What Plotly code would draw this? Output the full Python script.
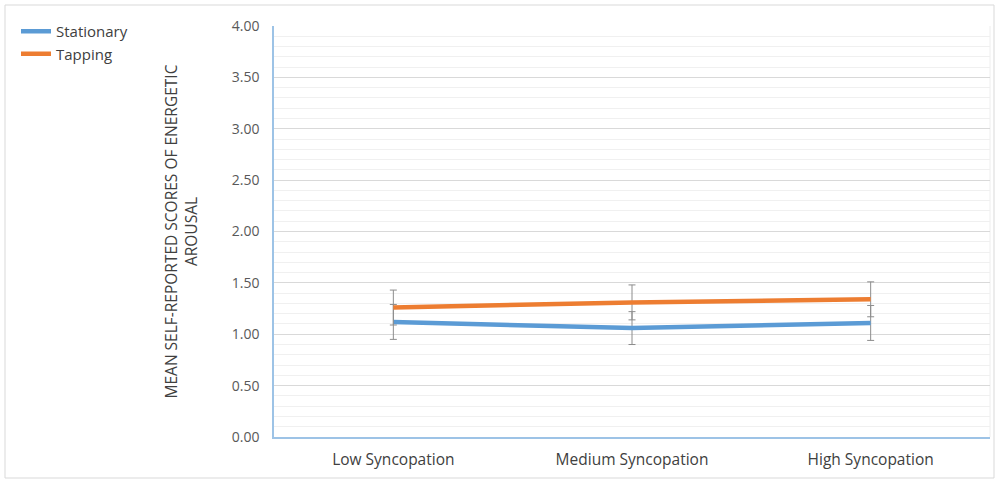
import plotly.graph_objects as go

categories = ["Low Syncopation", "Medium Syncopation", "High Syncopation"]
stationary = [1.12, 1.06, 1.11]
stationary_err = [0.17, 0.16, 0.17]
tapping = [1.26, 1.31, 1.34]
tapping_err = [0.17, 0.17, 0.17]
y_ticks = [0, 0.5, 1, 1.5, 2, 2.5, 3, 3.5, 4]

FONT = "Open Sans"
fig = go.Figure()
fig.add_trace(go.Scatter(
    x=categories, y=stationary, name="Stationary", mode="lines",
    line=dict(color="#5B9BD5", width=4.5),
    error_y=dict(type="data", array=stationary_err, color="#8c8c8c", thickness=1, width=3.5),
))
fig.add_trace(go.Scatter(
    x=categories, y=tapping, name="Tapping", mode="lines",
    line=dict(color="#ED7D31", width=4.5),
    error_y=dict(type="data", array=tapping_err, color="#8c8c8c", thickness=1, width=3.5),
))

L, R, T, B = 274, 5, 26, 45
W, H = 995, 482
pw, ph = W - L - R, H - T - B

fig.update_layout(
    width=W, height=H,
    margin=dict(l=L, r=R, t=T, b=B),
    paper_bgcolor="white", plot_bgcolor="white",
    font=dict(family=FONT, size=13, color="#404040"),
    showlegend=True,
    legend=dict(x=(16 - L) / pw, y=1 + (T - 15) / ph, xanchor="left", yanchor="top",
                font=dict(size=15, color="#404040"), bgcolor="rgba(0,0,0,0)",
                tracegroupgap=5, itemwidth=30),
    xaxis=dict(type="category", range=[-0.5, 2.5], showgrid=False,
               showline=True, linecolor="#9DC3E6", linewidth=1.5,
               ticks="", tickfont=dict(size=15.5, color="#404040"), ticklabelstandoff=8),
    yaxis=dict(range=[0, 4], tickvals=y_ticks, tickformat=".2f",
               showgrid=True, gridcolor="#d9d9d9", gridwidth=1,
               minor=dict(dtick=0.1, showgrid=True, gridcolor="#f0f0f0", gridwidth=1),
               showline=True, linecolor="#9DC3E6", linewidth=1.5, zeroline=False,
               ticks="", tickfont=dict(size=14, color="#595959"), ticklabelstandoff=10,
               title=dict(text="MEAN SELF-REPORTED SCORES OF ENERGETIC<br>AROUSAL",
                          font=dict(size=15.5, color="#404040"), standoff=30)),
)

# outer chart border and right plot edge
fig.add_shape(type="rect", xref="paper", yref="paper",
              x0=(5 - L) / pw, x1=(W - 1 - L) / pw,
              y0=1 - (478 - T) / ph, y1=1 - (5 - T) / ph,
              line=dict(color="#d9d9d9", width=1), layer="below")
fig.add_shape(type="line", xref="paper", yref="paper", x0=1, x1=1, y0=0, y1=1,
              line=dict(color="#eeeeee", width=1), layer="below")

fig.write_html("out.html")
